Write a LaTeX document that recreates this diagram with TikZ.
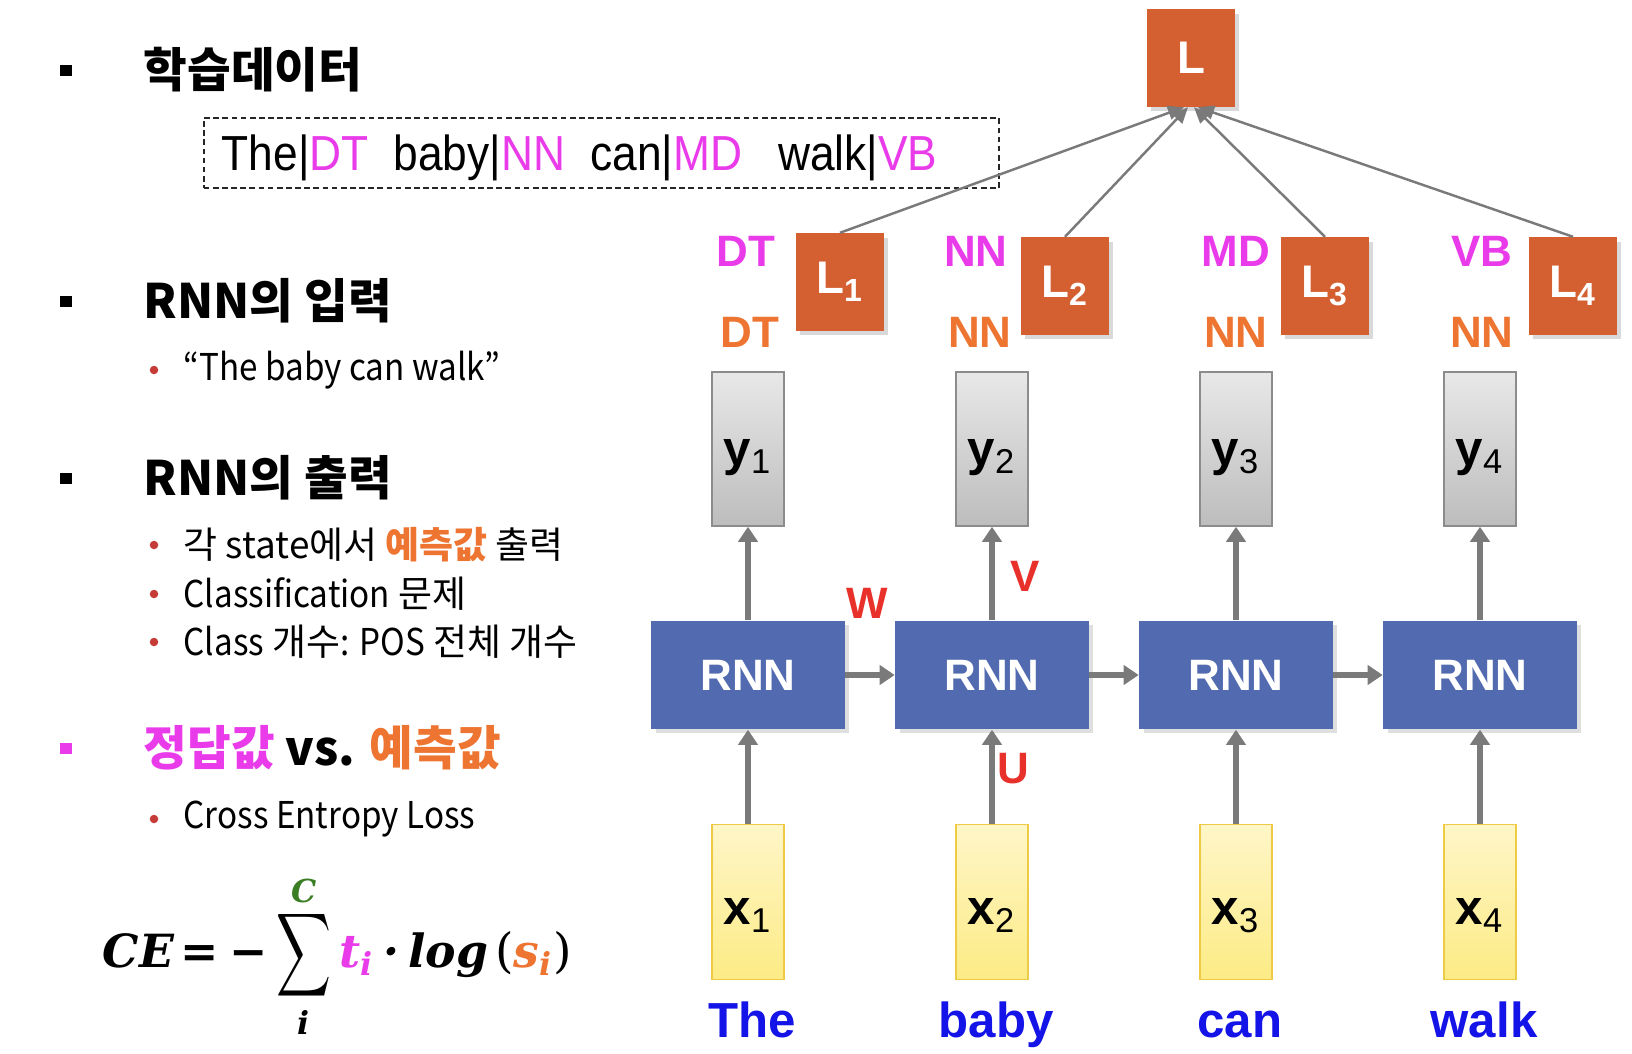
\documentclass[tikz,border=0pt]{standalone}
\usepackage{amsmath}
\usepackage{graphicx}
\usepackage{fontspec}
\setmainfont{Liberation Sans}
\newfontfamily\nar{Liberation Sans}[FakeStretch=0.9]
\newfontfamily\kr{Noto Sans CJK KR}
\newfontfamily\krn{Noto Sans CJK KR}[FakeStretch=0.9]
\newfontfamily\cam{DejaVu Serif}
\newcommand\mv[1]{\text{\cam\bfseries\itshape\fontsize{13}{15}\selectfont #1}}
\newcommand\ms[1]{\text{\cam\bfseries\itshape\fontsize{9}{10}\selectfont #1}}
\newcommand\mpar[1]{\text{\cam\fontsize{13.5}{15}\selectfont #1}}
\usepackage{tikz}
\usetikzlibrary{arrows.meta,calc,shadows}
\definecolor{pk}{HTML}{E93BEA}
\definecolor{og}{HTML}{ED7431}
\definecolor{lossC}{HTML}{D45F30}
\definecolor{rnnC}{HTML}{526AAF}
\definecolor{wred}{HTML}{E8312A}
\definecolor{wblue}{HTML}{1414E8}
\definecolor{dotR}{HTML}{C43B37}
\definecolor{sumG}{HTML}{3A7D22}
\definecolor{arrG}{HTML}{7A7A7A}
\definecolor{xTop}{HTML}{FFF6C8}
\definecolor{xBot}{HTML}{FCEB85}
\definecolor{xEdge}{HTML}{EFCB45}

\begin{document}
\begin{tikzpicture}[x=0.01cm,y=-0.01cm,
  head/.style={anchor=west,inner sep=0pt,font=\kr\bfseries\fontsize{13.5}{16}\selectfont},
  item/.style={anchor=west,inner sep=0pt,font=\kr\fontsize{10.5}{12}\selectfont},
  sq/.style={fill=black,minimum size=0.11cm,inner sep=0pt},
  dot/.style={circle,fill=dotR,minimum size=0.085cm,inner sep=0pt},
  ybox/.style={draw=black!45,top color=black!9,bottom color=black!26,minimum width=0.72cm,minimum height=1.54cm,inner sep=0pt,font=\bfseries\fontsize{14}{16}\selectfont},
  xbox/.style={draw=xEdge,top color=xTop,bottom color=xBot,minimum width=0.72cm,minimum height=1.55cm,inner sep=0pt,font=\bfseries\fontsize{14}{16}\selectfont},
  cell/.style={fill=rnnC,minimum width=1.93cm,minimum height=1.08cm,text=white,font=\bfseries\fontsize{12.5}{14}\selectfont,
    drop shadow={shadow xshift=1.2pt,shadow yshift=-1.2pt,opacity=.25}},
  lossbox/.style={fill=lossC,minimum width=0.88cm,minimum height=0.97cm,inner sep=0pt,text=white,font=\bfseries\fontsize{13}{15}\selectfont,
    drop shadow={shadow xshift=1.2pt,shadow yshift=-1.2pt,opacity=.3}},
  tag/.style={inner sep=0pt,font=\bfseries\fontsize{12.5}{14}\selectfont},
  wt/.style={inner sep=0pt,text=wred,font=\bfseries\fontsize{12.5}{14}\selectfont},
  word/.style={anchor=base,inner sep=0pt,text=wblue,font=\bfseries\fontsize{14}{16}\selectfont},
  arr/.style={-{Triangle[length=1.5mm,width=1.9mm]},line width=0.6mm,draw=arrG},
  lnk/.style={-{Triangle[length=1.6mm,width=1.4mm]},line width=0.7pt,draw=arrG}]
\useasboundingbox (0,0) rectangle (1632,1054);

% left column: bullets and texts
\node[sq] (b1) at (66,70) {};
\node[head] (h1) at (143,70) {학습데이터};
\node[draw=black!85,dash pattern=on 1.6pt off 1pt,line width=0.6pt,minimum width=7.95cm,minimum height=0.70cm,
  text width=7.59cm,text depth=0pt,inner xsep=0.18cm,align=left,font=\nar\fontsize{14}{16}\selectfont] (train) at (601.5,153)
  {The|\textcolor{pk}{DT}\hspace{0.25cm}baby|\textcolor{pk}{NN}\hspace{0.25cm}can|\textcolor{pk}{MD}\hspace{0.36cm}walk|\textcolor{pk}{VB}};
\node[sq] (b2) at (66,301) {};
\node[head] (h2) at (143,301) {RNN의 입력};
\node[dot] (d1) at (154,370) {};
\node[item] (i1) at (183,370) {\krn “The baby can walk”};
\node[sq] (b3) at (66,478) {};
\node[head] (h3) at (143,478) {RNN의 출력};
\node[dot] (d2) at (154,545) {};
\node[item] (i2) at (183,545) {각 state에서 {\bfseries\color{og}예측값} 출력};
\node[dot] (d3) at (154,594) {};
\node[item] (i3) at (183,594) {{\krn Classification} 문제};
\node[dot] (d4) at (154,642) {};
\node[item] (i4) at (183,642) {{\krn Class} 개수{\krn : POS} 전체 개수};
\node[sq,fill=pk] (b4) at (66,748) {};
\node[head] (h4) at (143,748) {\textcolor{pk}{정답값} vs. \textcolor{og}{예측값}};
\node[dot] (d5) at (154,819) {};
\node[item] (i5) at (183,819) {\krn Cross Entropy Loss};
\node[anchor=west,inner sep=0pt,font=\fontsize{14}{16}\selectfont] (ce) at (102,962)
  {$\displaystyle \mv{CE\kern2pt=\kern3pt−}\mathop{\vcenter{\hbox{\scalebox{0.75}[1.15]{$\displaystyle\sum$}}}}\limits_{\raisebox{3pt}[\height][\depth]{\ms{i}}}^{\raisebox{-4pt}[\height][\depth]{\ms{\color{sumG}C}}}
   \mv{\color{pk}t}_{\ms{\color{pk}i}}\kern2.5pt\mv{·}\kern2.5pt\mv{log}\kern2pt\mpar{(}\mv{\color{og}s}_{\ms{\color{og}i}}\mpar{)}$};

% unrolled network
\node[lossbox] (L) at (1191,58) {L};
\foreach \i/\cx/\lx/\ly/\tp/\tpx/\to/\tox/\tw in {1/748/840/282/DT/746/DT/750/The,2/992/1065/286/NN/976/NN/980/baby,
    3/1236/1325/286/MD/1236/NN/1236/can,4/1480/1573/286/VB/1482/NN/1482/walk}{
  \node[ybox] (y\i) at (\cx,449) {\raisebox{-4.8pt}[0pt][0pt]{y\textsubscript{\mdseries\i}}};
  \node[cell] (r\i) at (\cx,675) {RNN};
  \node[xbox] (x\i) at (\cx,902) {\raisebox{-6.5pt}[0pt][0pt]{x\textsubscript{\mdseries\i}}};
  \node[word] (w\i) at (\cx+4,1037) {\tw};
  \node[tag,text=pk] (p\i) at (\tpx,251) {\tp};
  \node[tag,text=og] (o\i) at (\tox,332) {\to};
  \node[lossbox] (L\i) at (\lx,\ly) {L\textsubscript{\i}};
  \draw[arr] (x\i) -- (r\i);
  \draw[arr] (r\i) -- (y\i);
}
\foreach \i/\j in {1/2,2/3,3/4}
  \draw[arr] (r\i) -- (r\j);
\foreach \i/\dx in {1/-7,2/-3,3/3,4/7}
  \draw[lnk] (L\i.north) -- ($(L.south)+(\dx,0)$);
\node[wt] (wW) at (867,603) {W};
\node[wt] (wV) at (1025,576) {V};
\node[wt] (wU) at (1013,769) {U};
\end{tikzpicture}
\end{document}
